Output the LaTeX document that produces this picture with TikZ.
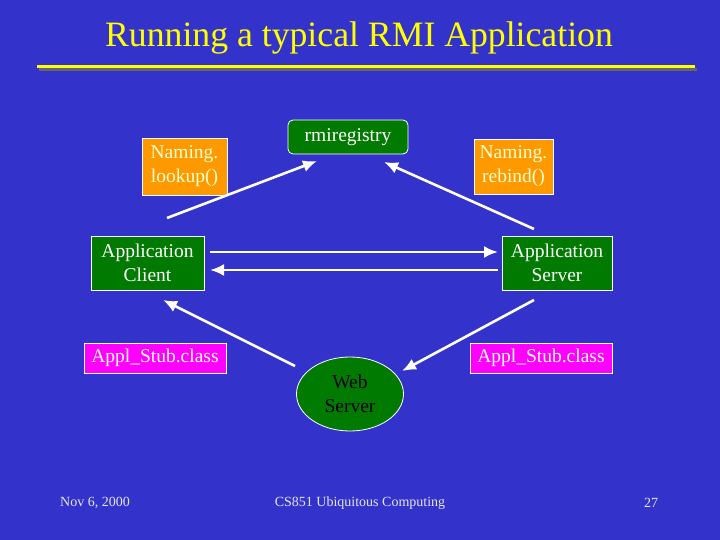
\documentclass[tikz,border=0pt]{standalone}
\usepackage{fontspec}
\setmainfont{Liberation Serif}
\usetikzlibrary{arrows.meta,shapes.geometric}
\begin{document}
\begin{tikzpicture}[x=1pt,y=-1pt,
  box/.style={draw=white,line width=0.8pt,inner sep=0pt,align=center,font=\fontsize{19.5}{24}\selectfont},
  arr/.style={white,line width=2.6pt,-{Latex[length=14pt,width=12pt]}}]
\definecolor{bg}{RGB}{51,51,204}
\definecolor{ttl}{RGB}{255,255,0}
\definecolor{org}{RGB}{255,153,0}
\definecolor{grn}{RGB}{0,122,0}
\definecolor{mag}{RGB}{255,0,255}
\definecolor{pale}{RGB}{255,255,204}
\fill[bg] (0,0) rectangle (720,540);
\useasboundingbox (0,0) rectangle (720,540);
\node[ttl,font=\fontsize{35.7}{40}\selectfont] (title) at (359,38) {Running a typical RMI Application};
\fill[black!60] (39,68) rectangle (697,71);
\fill[ttl] (37,65) rectangle (695,68.5);
\node[box,fill=org,text=pale,minimum width=85,minimum height=57] (look) at (184.5,166.5) {Naming.\\lookup()};
\node[box,fill=grn,text=white,rounded corners=5pt,minimum width=120,minimum height=34] (rmi) at (348,137) {rmiregistry};
\node[box,fill=org,text=pale,minimum width=79,minimum height=55] (reb) at (513.5,166.5) {Naming.\\rebind()};
\node[box,fill=grn,text=white,minimum width=113,minimum height=54] (cli) at (147.5,263) {Application\\Client};
\node[box,fill=grn,text=white,minimum width=110,minimum height=54] (srv) at (557,263) {Application\\Server};
\node[box,fill=mag,text=white,minimum width=142,minimum height=30] (sl) at (155,358) {Appl\_Stub.class};
\node[box,fill=mag,text=white,minimum width=142,minimum height=30] (sr) at (541,358) {Appl\_Stub.class};
\node[draw=white,line width=0.8pt,fill=grn,text=black,ellipse,minimum width=107,minimum height=74,inner sep=0pt,align=center,font=\fontsize{19.5}{24}\selectfont] (web) at (350,394) {Web\\Server};
\coordinate (a1) at (167,218); \coordinate (a1e) at (317,161);
\coordinate (a2) at (534,229); \coordinate (a2e) at (384,162);
\coordinate (h1) at (210,252); \coordinate (h1e) at (498,252);
\coordinate (h2) at (498,270); \coordinate (h2e) at (210,270);
\coordinate (b1) at (295,366); \coordinate (b1e) at (163,300);
\coordinate (b2) at (534,300); \coordinate (b2e) at (402,371);
\draw[arr] (a1) -- (a1e);
\draw[arr] (a2) -- (a2e);
\draw[arr] (h1) -- (h1e);
\draw[arr] (h2) -- (h2e);
\draw[arr] (b1) -- (b1e);
\draw[arr] (b2) -- (b2e);
\node[text=white!90!black,font=\fontsize{14}{16}\selectfont] (f1) at (95,503) {Nov 6, 2000};
\node[text=white!90!black,font=\fontsize{14}{16}\selectfont] (f2) at (360,503) {CS851 Ubiquitous Computing};
\node[text=white!90!black,font=\fontsize{14}{16}\selectfont] (f3) at (651,503) {27};
\end{tikzpicture}
\end{document}
